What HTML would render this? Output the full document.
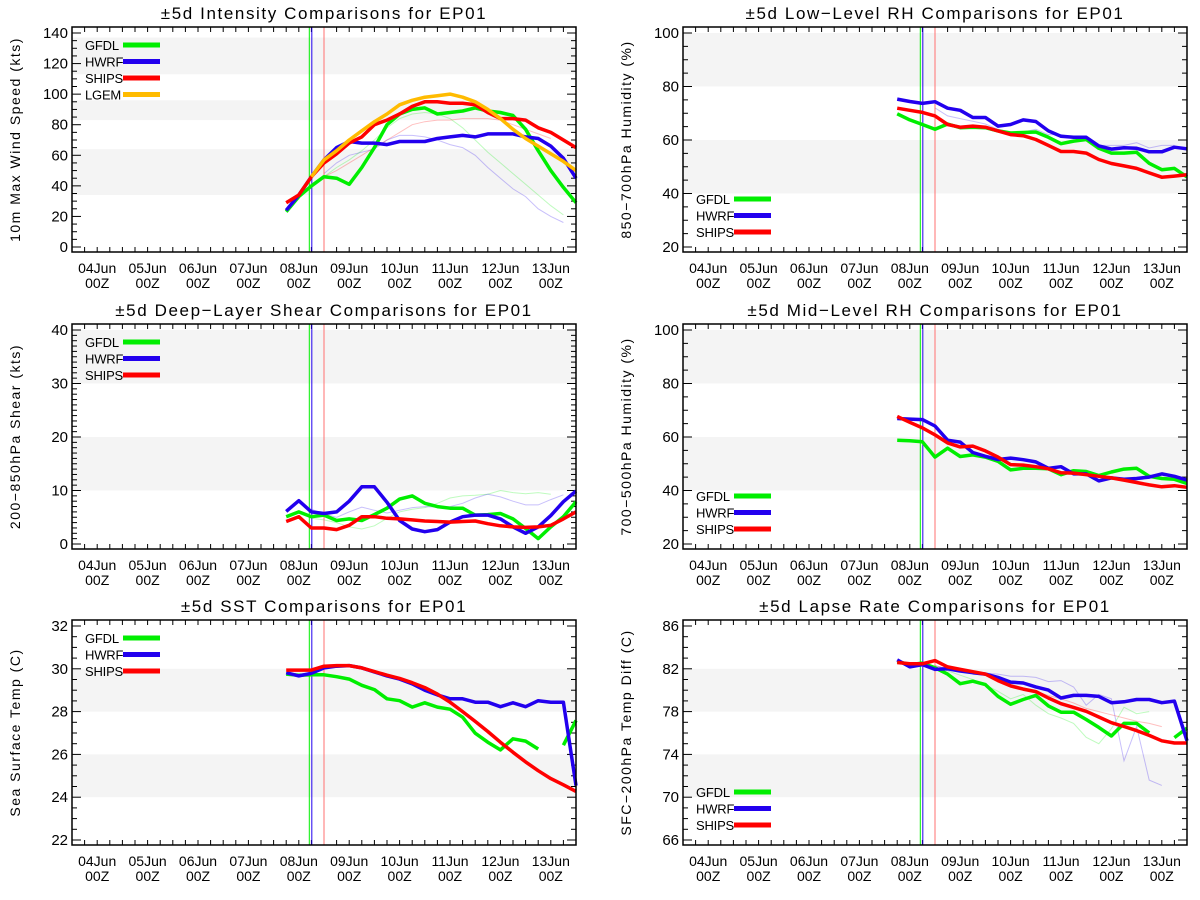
<!DOCTYPE html>
<html><head><meta charset="utf-8">
<style>
html,body{margin:0;padding:0;background:#fff;}
svg{display:block;font-family:"Liberation Sans","DejaVu Sans",sans-serif;}
</style></head>
<body>
<svg id="chart" width="1200" height="900" viewBox="0 0 1200 900"></svg>
<script>
// ---- shared time axis (hours from 08Jun 00Z) ----
const hours = [-6,0,6,12,18,24,30,36,42,48,54,60,66,72,78,84,90,96,102,108,114,120,126,132];
const dayLabels = ["04Jun","05Jun","06Jun","07Jun","08Jun","09Jun","10Jun","11Jun","12Jun","13Jun"];
const markerHours = [5, 6.2, 12];

// ---- panel 1: intensity ----
const p1Ticks = [0,20,40,60,80,100,120,140];
const p1Gfdl = [23,33,40,46,45,41,52,65,80,87,90,91,87,88,89,91,89,88,86,77,63,50,39,29];
const p1Hwrf = [24,34,46,57,65,69,68,68,67,69,69,69,71,72,73,72,74,74,74,72,71,66,58,45];
const p1Ships = [29,34,46,55,61,68,72,80,83,87,92,95,95,94,94,93,88,84,84,83,78,75,70,65];
const p1Lgem = [null,null,46,57,63,70,76,82,87,93,96,98,99,100,98,95,90,84,77,71,66,61,56,50];
const p1ThinGfdl = [null,null,40,46,52,57,63,70,78,84,87,88,87,84,78,70,62,55,48,41,34,27,21,null];
const p1ThinHwrf = [null,null,null,48,55,60,62,64,70,73,73,72,70,67,65,60,52,45,38,33,25,20,16,null];
const p1ThinShips = [null,null,null,46,50,55,60,65,70,75,80,82,83,83,84,84,84,83,80,77,74,71,null,null];

// ---- panel 2: low-level RH ----
const p2Ticks = [20,40,60,80,100];
const p2Gfdl = [69.8,67.5,65.8,64.0,66.0,64.6,64.8,64.6,63.4,62.6,62.8,63.0,61.0,58.6,59.6,60.2,56.9,55.1,55.1,55.4,51.3,48.9,49.4,46.2];
const p2Hwrf = [75.3,74.4,73.7,74.3,71.9,71.1,68.4,68.4,65.2,65.8,67.5,66.9,63.4,61.4,61.0,61.0,57.8,56.6,57.1,56.9,55.6,55.6,57.3,56.7];
const p2Ships = [71.9,71.1,70.3,69.0,65.8,64.8,65.2,64.8,63.4,62.0,61.6,60.2,58.0,55.7,55.7,55.1,52.7,51.2,50.3,49.4,47.7,46.1,46.5,47.0];
const p2ThinHwrf = [null,null,null,72,69,68,67,66,64,63,63,64,62,62,61,60,58,58,58,59,57,58,58,null];

// ---- panel 3: deep-layer shear ----
const p3Ticks = [0,10,20,30,40];
const p3Gfdl = [5.1,6.0,5.1,5.4,4.4,4.7,4.4,5.5,6.7,8.4,9.0,7.6,7.0,6.7,6.7,5.4,5.5,5.7,4.7,2.9,1.0,3.2,5.1,7.9];
const p3Hwrf = [6.1,8.1,6.0,5.7,6.0,8.0,10.7,10.7,7.8,4.4,2.8,2.3,2.7,4.1,5.1,5.4,5.4,4.7,3.2,2.0,3.2,5.3,7.9,9.9];
const p3Ships = [4.2,5.1,3.0,3.0,2.7,3.5,5.1,5.1,4.8,4.7,4.5,4.3,4.2,4.1,4.2,4.3,3.8,3.4,3.2,3.1,3.2,3.5,4.7,6.0];
const p3ThinGfdl = [null,null,4.8,4.5,4.0,3.2,2.8,3.4,4.8,6.0,6.5,6.8,7.6,8.6,9.0,9.1,9.3,10.0,9.6,9.4,9.6,9.3,null,null];
const p3ThinHwrf = [null,null,6.5,5.6,5.0,6.0,6.9,6.3,5.8,6.3,6.8,7.0,6.9,7.0,7.6,8.6,9.3,8.8,8.0,7.3,7.3,8.3,9.2,null];

// ---- panel 4: mid-level RH ----
const p4Ticks = [20,40,60,80,100];
const p4Gfdl = [58.8,58.6,58.2,52.5,55.8,52.7,53.3,52.5,50.9,47.7,48.3,48.3,48.1,45.9,47.4,47.1,45.6,46.9,48.0,48.3,45.3,44.5,44.2,42.6];
const p4Hwrf = [66.9,66.7,66.5,64.1,58.8,58.1,54.2,52.8,51.6,52.1,51.5,50.7,48.3,48.9,46.2,46.2,43.6,44.7,44.2,44.5,45.0,46.2,45.3,43.9];
const p4Ships = [67.7,65.5,63.4,60.8,57.8,56.3,56.6,54.8,52.5,49.7,49.5,48.9,48.1,46.6,46.5,45.9,45.3,44.7,43.9,43.0,42.1,41.4,41.8,41.2];

// ---- panel 5: SST ----
const p5Ticks = [22,24,26,28,30,32];
const p5Gfdl = [29.75,29.70,29.72,29.72,29.63,29.52,29.23,29.03,28.60,28.51,28.21,28.41,28.21,28.11,27.74,26.99,26.57,26.21,26.73,26.62,26.25,null,26.43,27.59];
const p5Hwrf = [29.82,29.67,29.79,30.04,30.12,30.15,30.04,29.85,29.67,29.52,29.30,29.00,28.78,28.60,28.60,28.44,28.44,28.23,28.41,28.23,28.51,28.44,28.44,24.54];
const p5Ships = [29.94,29.94,29.94,30.12,30.15,30.15,30.04,29.87,29.70,29.55,29.35,29.12,28.82,28.44,28.00,27.54,27.07,26.57,26.10,25.65,25.24,24.87,24.58,24.27];

// ---- panel 6: lapse rate ----
const p6Ticks = [66,70,74,78,82,86];
const p6Gfdl = [82.68,82.39,82.53,82.09,81.50,80.61,80.84,80.52,79.42,78.68,79.13,79.51,78.53,77.94,77.94,77.26,76.52,75.72,76.90,76.90,76.01,null,75.57,76.46];
const p6Hwrf = [82.83,82.18,82.39,81.94,82.00,81.79,81.64,81.50,81.20,80.76,80.67,80.31,80.01,79.27,79.51,79.51,79.42,78.83,78.92,79.13,79.13,78.83,78.98,75.27];
const p6Ships = [82.59,82.47,82.47,82.77,82.18,81.94,81.73,81.50,80.90,80.40,80.10,79.87,79.27,78.74,78.39,78.03,77.50,76.96,76.61,76.22,75.78,75.27,75.07,75.07];
const p6ThinHwrf = [null,null,null,82.3,82.0,81.9,81.8,81.6,81.5,81.3,81.3,81.2,80.8,80.9,80.3,78.6,79.6,79.2,73.4,76.6,71.6,71.1,null,null];
const p6ThinShips = [null,null,null,82.3,82.0,81.8,81.6,81.4,81.0,80.6,80.2,79.9,79.5,79.2,78.8,78.3,78.0,77.7,77.4,77.1,76.9,76.6,null,null];
const p6ThinGfdl = [null,null,null,82.2,81.8,81.4,81.0,80.5,79.9,79.2,79.6,78.6,77.8,77.4,76.9,75.6,75.0,76.4,78.4,77.8,78.0,null,null,null];

const GREEN = "#00ee00", BLUE = "#2200ee", RED = "#ff0000", ORANGE = "#ffbb00";
const svg = document.getElementById("chart");
const NS = "http://www.w3.org/2000/svg";
function mk(tag, attrs, parent) {
  const e = document.createElementNS(NS, tag);
  for (const k in attrs) e.setAttribute(k, attrs[k]);
  (parent || svg).appendChild(e);
  return e;
}

const panels = [
  {key:"intensity", title:"\u00b15d Intensity Comparisons for EP01", ylab:"10m Max Wind Speed (kts)", L:72, T:27, ymin:0, ymax:140, ticks:p1Ticks, minor:5, bands:[[34,64],[83,96],[113,137]], legendTop:true,
   thin:[[p1ThinGfdl,GREEN],[p1ThinHwrf,BLUE],[p1ThinShips,RED]],
   series:[["GFDL",p1Gfdl,GREEN],["HWRF",p1Hwrf,BLUE],["SHIPS",p1Ships,RED],["LGEM",p1Lgem,ORANGE]]},
  {key:"low-level-rh", title:"\u00b15d Low\u2212Level RH Comparisons for EP01", ylab:"850\u2212700hPa Humidity (%)", L:683, T:27, ymin:20, ymax:100, ticks:p2Ticks, minor:5, bands:[[40,60],[80,100]], legendTop:false,
   thin:[[p2ThinHwrf,BLUE]],
   series:[["GFDL",p2Gfdl,GREEN],["HWRF",p2Hwrf,BLUE],["SHIPS",p2Ships,RED]]},
  {key:"shear", title:"\u00b15d Deep\u2212Layer Shear Comparisons for EP01", ylab:"200\u2212850hPa Shear (kts)", L:72, T:324, ymin:0, ymax:40, ticks:p3Ticks, minor:1, bands:[[10,20],[30,40]], legendTop:true,
   thin:[[p3ThinGfdl,GREEN],[p3ThinHwrf,BLUE]],
   series:[["GFDL",p3Gfdl,GREEN],["HWRF",p3Hwrf,BLUE],["SHIPS",p3Ships,RED]]},
  {key:"mid-level-rh", title:"\u00b15d Mid\u2212Level RH Comparisons for EP01", ylab:"700\u2212500hPa Humidity (%)", L:683, T:324, ymin:20, ymax:100, ticks:p4Ticks, minor:5, bands:[[40,60],[80,100]], legendTop:false,
   thin:[],
   series:[["GFDL",p4Gfdl,GREEN],["HWRF",p4Hwrf,BLUE],["SHIPS",p4Ships,RED]]},
  {key:"sst", title:"\u00b15d SST Comparisons for EP01", ylab:"Sea Surface Temp (C)", L:72, T:620, ymin:22, ymax:32, ticks:p5Ticks, minor:0.5, bands:[[24,26],[28,30]], legendTop:true,
   thin:[],
   series:[["GFDL",p5Gfdl,GREEN],["HWRF",p5Hwrf,BLUE],["SHIPS",p5Ships,RED]]},
  {key:"lapse-rate", title:"\u00b15d Lapse Rate Comparisons for EP01", ylab:"SFC\u2212200hPa Temp Diff (C)", L:683, T:620, ymin:66, ymax:86, ticks:p6Ticks, minor:1, bands:[[70,74],[78,82]], legendTop:false,
   thin:[[p6ThinGfdl,GREEN],[p6ThinHwrf,BLUE],[p6ThinShips,RED]],
   series:[["GFDL",p6Gfdl,GREEN],["HWRF",p6Hwrf,BLUE],["SHIPS",p6Ships,RED]]}
];

const W = 504, H = 225, DAYPX = 50.4;

panels.forEach(p => {
  const L = p.L, T = p.T, R = L + W, B = T + H;
  const xDay = d => L + (d + 0.5) * DAYPX;
  const xH = h => xDay(4 + h / 24);
  const yV = v => (B - 5) - (v - p.ymin) / (p.ymax - p.ymin) * 214;
  const g = mk("g", {});
  
  

  p.bands.forEach((b, i) => {
    const y1 = Math.max(T, yV(b[1])), y2 = Math.min(B, yV(b[0]));
    const r = mk("rect", {x:L, y:y1, width:W, height:y2 - y1, fill:"#f4f4f4"}, g);
    
    
  });

  const t = mk("text", {x:L + W/2, y:T - 8, "text-anchor":"middle", "font-size":"17", fill:"#000", "letter-spacing":"1.6"}, g);
  t.textContent = p.title;
  
  

  const yl = L - 52, ym = T + H/2;
  const yt = mk("text", {x:yl, y:ym, "text-anchor":"middle", "font-size":"14", fill:"#000", "letter-spacing":"1.5", transform:`rotate(-90 ${yl} ${ym})`}, g);
  yt.textContent = p.ylab;
  
  

  for (let v = p.ymin; v <= p.ymax + 1e-9; v += p.minor) {
    const y = yV(v);
    const major = p.ticks.some(tk => Math.abs(tk - v) < 1e-6);
    const len = major ? 9 : 5;
    mk("line", {x1:L, x2:L + len, y1:y, y2:y, stroke:"#000", "stroke-width":1}, g);
    mk("line", {x1:R, x2:R - len, y1:y, y2:y, stroke:"#000", "stroke-width":1}, g);
  }
  p.ticks.forEach(v => {
    const tl = mk("text", {x:L - 4, y:yV(v) + 5, "text-anchor":"end", "font-size":"15", fill:"#000"}, g);
    tl.textContent = String(v);
    
    
  });

  for (let d = -0.5; d <= 9.5 + 1e-9; d += 0.25) {
    const x = xDay(d);
    mk("line", {x1:x, x2:x, y1:B, y2:B - 5, stroke:"#000", "stroke-width":1}, g);
    mk("line", {x1:x, x2:x, y1:T, y2:T + 5, stroke:"#000", "stroke-width":1}, g);
  }
  dayLabels.forEach((lab, i) => {
    const x = xDay(i);
    const a = mk("text", {x:x, y:B + 21, "text-anchor":"middle", "font-size":"14", fill:"#000"}, g);
    a.textContent = lab;
    
    
    const b2 = mk("text", {x:x, y:B + 36, "text-anchor":"middle", "font-size":"14", fill:"#000"}, g);
    b2.textContent = "00Z";
    
    
  });

  p.thin.forEach(([vals, col]) => {
    let d = "", pen = false;
    vals.forEach((v, i) => {
      if (v === null) { pen = false; return; }
      d += (pen ? "L" : "M") + xH(hours[i]).toFixed(1) + " " + yV(v).toFixed(1);
      pen = true;
    });
    const pth = mk("path", {d:d, fill:"none", stroke:col, "stroke-width":1, "stroke-opacity":0.25}, g);
    
    
  });

  [[markerHours[0], GREEN],[markerHours[1], BLUE],[markerHours[2], "#ff7070"]].forEach(([h, col]) => {
    const ln = mk("line", {x1:xH(h), x2:xH(h), y1:T, y2:B, stroke:col, "stroke-width":1}, g);
    
    
  });

  p.series.forEach(([name, vals, col]) => {
    let d = "", pen = false;
    vals.forEach((v, i) => {
      if (v === null) { pen = false; return; }
      d += (pen ? "L" : "M") + xH(hours[i]).toFixed(1) + " " + yV(v).toFixed(1);
      pen = true;
    });
    const pth = mk("path", {d:d, fill:"none", stroke:col, "stroke-width":3.5, "stroke-linejoin":"round"}, g);
    
    
  });

  const fr = mk("rect", {x:L, y:T, width:W, height:H, fill:"none", stroke:"#000", "stroke-width":1.5}, g);
  
  

  const base = p.legendTop ? T + 18 : T + 172;
  p.series.forEach(([name, vals, col], i) => {
    const y = base + i * 16.5;
    const lg = mk("g", {}, g);
    
    
    const tx = mk("text", {x:L + 13, y:y + 5, "font-size":"13", fill:"#000", "letter-spacing":"-0.2"}, lg);
    tx.textContent = name;
    mk("line", {x1:L + 51, x2:L + 88, y1:y, y2:y, stroke:col, "stroke-width":5}, lg);
  });
});
</script>
</body></html>
